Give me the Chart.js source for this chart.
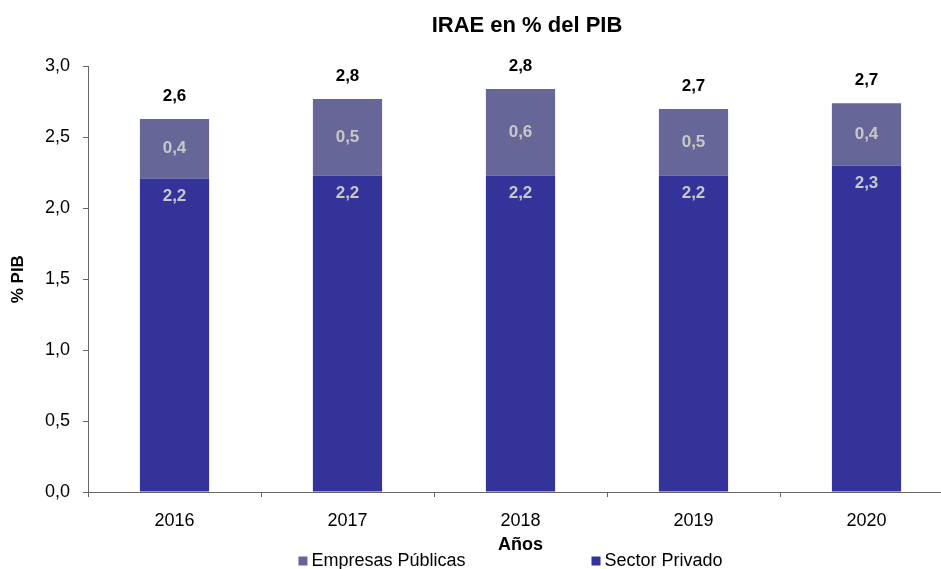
<!DOCTYPE html>
<html><head><meta charset="utf-8">
<script src="https://cdn.jsdelivr.net/npm/chart.js@4/dist/chart.umd.min.js"></script>
<style>html,body{margin:0;padding:0;background:#fff;overflow:hidden}</style>
</head><body>
<canvas id="c" width="941" height="569"></canvas>
<script>
const years = ['2016', '2017', '2018', '2019', '2020'];
const sectorPrivado = [2.21, 2.23, 2.23, 2.23, 2.30];
const empresasPublicas = [0.42, 0.54, 0.61, 0.47, 0.44];
const seriesNames = ['Sector Privado', 'Empresas Públicas'];
const chartTitle = 'IRAE en % del PIB';
const xTitle = 'Años';
const yTitle = '% PIB';

const FAM = '"Liberation Sans", Arial, sans-serif';
const COL_PRIV = '#333399';
const COL_PUB = '#666699';
const fmt = v => v.toFixed(1).replace('.', ',');

const barLabels = {
  id: 'barLabels',
  afterDatasetsDraw(chart) {
    const ctx = chart.ctx;
    const m0 = chart.getDatasetMeta(0), m1 = chart.getDatasetMeta(1);
    ctx.save();
    ctx.textAlign = 'center';
    ctx.textBaseline = 'middle';
    ctx.font = 'bold 17px ' + FAM;
    years.forEach((yr, i) => {
      const p = m0.data[i], q = m1.data[i];
      const a = chart.data.datasets[0].data[i], b = chart.data.datasets[1].data[i];
      ctx.fillStyle = '#c8c8c8';
      ctx.fillText(fmt(a), p.x, p.y + 18);
      ctx.fillText(fmt(b), q.x, (q.y + q.base) / 2);
      ctx.fillStyle = '#000';
      ctx.fillText(fmt(a + b), q.x, q.y - 23);
    });
    ctx.restore();
  }
};

// the plot area of the original runs slightly past the right edge of the picture
const EXTRA_RIGHT = 12;

const customLegend = {
  id: 'customLegend',
  afterLayout(chart) {
    const xs = chart.scales.x;
    if (xs) {
      xs.right += EXTRA_RIGHT;
      xs.width += EXTRA_RIGHT;
      xs.configure();
      chart.chartArea.right += EXTRA_RIGHT;
      chart.chartArea.width += EXTRA_RIGHT;
    }
    const t = chart.titleBlock;
    if (t) {
      const c = (chart.chartArea.left + chart.chartArea.right) / 2 + 6.5;
      const half = (t.right - t.left) / 2;
      t.left = c - half; t.right = c + half;
    }
  },
  afterDraw(chart) {
    const ctx = chart.ctx;
    const ds = [chart.data.datasets[1], chart.data.datasets[0]];
    ctx.save();
    ctx.font = '18px ' + FAM;
    ctx.textBaseline = 'middle';
    ctx.textAlign = 'left';
    const box = 9, gapText = 4, gapItems = 126;
    const widths = ds.map(d => box + gapText + ctx.measureText(d.label).width);
    const total = widths.reduce((s, w) => s + w, 0) + gapItems;
    let x = (chart.chartArea.left + chart.chartArea.right) / 2 - 10 - total / 2;
    const y = chart.height - 8;
    ds.forEach((d, i) => {
      ctx.fillStyle = d.backgroundColor;
      ctx.fillRect(x, y - box / 2, box, box);
      ctx.fillStyle = '#000';
      ctx.fillText(d.label, x + box + gapText, y);
      x += widths[i] + gapItems;
    });
    ctx.restore();
  }
};

new Chart(document.getElementById('c'), {
  type: 'bar',
  data: {
    labels: years,
    datasets: [
      { label: seriesNames[0], data: sectorPrivado, backgroundColor: COL_PRIV, borderWidth: 0, barPercentage: 0.4, categoryPercentage: 1 },
      { label: seriesNames[1], data: empresasPublicas, backgroundColor: COL_PUB, borderWidth: 0, barPercentage: 0.4, categoryPercentage: 1 }
    ]
  },
  options: {
    responsive: false,
    animation: false,
    layout: { padding: { left: 0, right: 0, top: 0, bottom: 13 } },
    plugins: {
      legend: { display: false },
      tooltip: { enabled: false },
      title: {
        display: true, text: chartTitle, color: '#000',
        font: { family: FAM, size: 22, weight: 'bold' },
        padding: { top: 13, bottom: 27 }
      }
    },
    scales: {
      x: {
        stacked: true,
        grid: { offset: true, drawOnChartArea: false, tickLength: 5, color: '#666' },
        border: { color: '#666', width: 1 },
        ticks: { color: '#000', font: { family: FAM, size: 18 }, padding: 13 },
        title: { display: true, text: xTitle, color: '#000', font: { family: FAM, size: 18, weight: 'bold' }, padding: { top: 0, bottom: 0 } },
        afterFit(s) { s.height = 64; }
      },
      y: {
        stacked: true,
        min: 0, max: 3,
        grid: { drawOnChartArea: false, tickLength: 5, color: '#666' },
        border: { color: '#666', width: 1 },
        ticks: { stepSize: 0.5, color: '#000', font: { family: FAM, size: 18 }, padding: 13, callback: v => fmt(v) },
        title: { display: true, text: yTitle, color: '#000', font: { family: FAM, size: 17, weight: 'bold' }, padding: { top: 8, bottom: 0 } },
        afterFit(s) { s.width = 88; }
      }
    }
  },
  plugins: [barLabels, customLegend]
});
</script>
</body></html>
